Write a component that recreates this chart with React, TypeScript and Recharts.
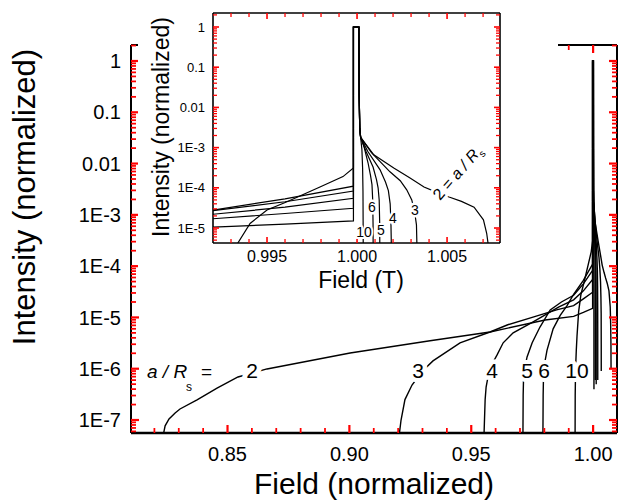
import React from "react";
import { LineChart, Line, XAxis, YAxis } from "recharts";

type Pt = [number, number];

const FONT = "'Liberation Sans', Arial, sans-serif";
const TICK_COLOR = "red";

// [field (normalized), intensity (normalized)], one array per a/Rs
const left2: Pt[] = [
  [0.8234, 4.5e-8], [0.8244, 7.7e-8], [0.826, 1.05e-7], [0.8285, 1.37e-7], [0.8305, 1.64e-7],
  [0.8375, 2.47e-7], [0.8457, 4.2e-7], [0.8543, 6.9e-7], [0.8662, 9.9e-7], [0.9003, 2.03e-6],
  [0.9331, 3.5e-6], [0.9577, 5.2e-6], [0.9803, 8.9e-6], [0.992, 1.05e-5], [0.996, 1.25e-5],
  [0.9998, 1.5e-5],
];
const left3: Pt[] = [
  [0.9203, 4.5e-8], [0.9212, 1e-7], [0.9228, 2.5e-7], [0.9257, 4.8e-7], [0.93, 9e-7],
  [0.9343, 1.42e-6], [0.9454, 3.2e-6], [0.9577, 5.2e-6], [0.965, 7.2e-6], [0.975, 1e-5],
  [0.985, 1.4e-5], [0.992, 1.7e-5], [0.996, 2.3e-5], [0.9998, 3.1e-5],
];
const left4: Pt[] = [
  [0.9552, 4.5e-8], [0.9557, 2.5e-7], [0.9561, 4.4e-7], [0.9575, 1e-6], [0.9606, 1.86e-6],
  [0.9631, 3.2e-6], [0.9672, 5e-6], [0.9754, 8.2e-6], [0.986, 1.6e-5], [0.992, 2.2e-5],
  [0.996, 3.3e-5], [0.9998, 5.5e-5],
];
const left5: Pt[] = [
  [0.9712, 4.5e-8], [0.9713, 3e-7], [0.9715, 8e-7], [0.9729, 1.7e-6], [0.975, 3.2e-6],
  [0.9782, 6.5e-6], [0.9824, 1.4e-5], [0.987, 2e-5], [0.992, 2.7e-5], [0.996, 4.5e-5],
  [0.9998, 8.3e-5],
];
const left6: Pt[] = [
  [0.9794, 4.5e-8], [0.9795, 3e-7], [0.9797, 1e-6], [0.9811, 2.3e-6], [0.9836, 6e-6],
  [0.9865, 1.1e-5], [0.9893, 1.7e-5], [0.992, 2.8e-5], [0.996, 5.3e-5], [0.9998, 1.1e-4],
];
const left10: Pt[] = [
  [0.9926, 4.5e-8], [0.99265, 3e-7], [0.9928, 1e-6], [0.9931, 2.3e-6], [0.99339, 4.3e-6],
  [0.99406, 1.3e-5], [0.995, 2.8e-5], [0.99611, 4.5e-5], [0.99794, 1.05e-4], [0.99922, 1.9e-4],
  [0.9998, 3.1e-4],
];

// the common narrow peak at the resonance field
const peak: Pt[] = [[0.9998, 1], [1.0001, 1], [1.00012, 0.02], [1.00015, 3e-3], [1.0002, 1.8e-3]];

const right2: Pt[] = [
  [1.00093, 6.6e-4], [1.00204, 3.1e-4], [1.0029, 1.8e-4], [1.00372, 1.05e-4], [1.0045, 7.5e-5],
  [1.00511, 5.9e-5], [1.0058, 4.6e-5], [1.0065, 3.3e-5], [1.00702, 1.6e-5], [1.0072, 7.4e-6],
  [1.00732, 3e-6], [1.00736, 1e-6],
];
const right3: Pt[] = [
  [1.0008, 7.5e-4], [1.00183, 2.5e-4], [1.0024, 1.5e-4], [1.00276, 8.9e-5], [1.00304, 5e-5],
  [1.0032, 2.5e-5], [1.0033, 1.2e-5], [1.00333, 3e-6], [1.00334, 9e-7],
];
const right4: Pt[] = [
  [1.0006, 8e-4], [1.00128, 2.8e-4], [1.00158, 1.4e-4], [1.00174, 8.5e-5], [1.00184, 4e-5],
  [1.00188, 1.5e-5], [1.0019, 5e-6], [1.00191, 6e-7],
];
const right5: Pt[] = [
  [1.0005, 8e-4], [1.00089, 3.3e-4], [1.00108, 1.6e-4], [1.00117, 1e-4], [1.00123, 5e-5],
  [1.00126, 1.2e-5], [1.00127, 5e-7],
];
const right6: Pt[] = [
  [1.0004, 1e-3], [1.00061, 4.2e-4], [1.00075, 2e-4], [1.00083, 1.2e-4], [1.00087, 5e-5],
  [1.00089, 1.2e-5], [1.0009, 6e-7],
];
const right10: Pt[] = [
  [1.00027, 9e-4], [1.00031, 3e-4], [1.00033, 8e-5], [1.00034, 1e-5], [1.00035, 4e-7],
];

const ratios = ["2", "3", "4", "5", "6", "10"];
const lefts = [left2, left3, left4, left5, left6, left10];
const rights = [right2, right3, right4, right5, right6, right10];

const curves = ratios.map((r, i) => ({
  name: r,
  data: [...lefts[i], ...peak, ...rights[i]].map(([x, y]) => ({ x, y })),
}));

// axes
const MAIN_X_DOMAIN = [0.8104, 1.0098];
const MAIN_Y_DOMAIN = [5.58e-8, 2.05];
const INSET_X_DOMAIN = [0.992, 1.00794];
const INSET_Y_DOMAIN = [4.24e-6, 2.23];

const mainXMajor = [0.85, 0.9, 0.95, 1.0];
const mainXLabels = ["0.85", "0.90", "0.95", "1.00"];
const insetXMajor = [0.995, 1.0, 1.005];
const insetXLabels = ["0.995", "1.000", "1.005"];
const mainYMajor = [1e-7, 1e-6, 1e-5, 1e-4, 1e-3, 0.01, 0.1, 1];
const mainYLabels = ["1E-7", "1E-6", "1E-5", "1E-4", "1E-3", "0.01", "0.1", "1"];
const insetYMajor = [1e-5, 1e-4, 1e-3, 0.01, 0.1, 1];
const insetYLabels = ["1E-5", "1E-4", "1E-3", "0.01", "0.1", "1"];

const range = (a: number, b: number) => Array.from({ length: b - a + 1 }, (_, i) => a + i);
const mainXTicks = range(82, 100).map((i) => i / 100);
const insetXTicks = range(993, 1007).map((i) => i / 1000);
const logTicks = (lo: number, hi: number) => {
  const out: number[] = [];
  for (let k = -9; k <= 1; k++)
    for (let m = 1; m <= 9; m++) {
      const v = Number((m * Math.pow(10, k)).toPrecision(6));
      if (v >= lo && v <= hi) out.push(v);
    }
  return out;
};
const mainYTicks = logTicks(MAIN_Y_DOMAIN[0], MAIN_Y_DOMAIN[1]);
const insetYTicks = logTicks(INSET_Y_DOMAIN[0], INSET_Y_DOMAIN[1]);

type Side = "left" | "right" | "top" | "bottom";

// inward tick marks (long for majors), labels only on majors
function makeTick(
  side: Side,
  majors: number[],
  labels: string[] | null,
  big: number,
  small: number,
  fontSize: number,
  gap: number,
  sw: number
) {
  return (p: any) => {
    const x = Number(p.x);
    const y = Number(p.y);
    const v = Number(p.payload.value);
    const idx = majors.findIndex((m) => Math.abs(m - v) / m < 1e-6);
    const len = idx >= 0 ? big : small;
    let x2 = x;
    let y2 = y;
    if (side === "left") x2 = x + len;
    if (side === "right") x2 = x - len;
    if (side === "bottom") y2 = y - len;
    if (side === "top") y2 = y + len;
    return (
      <g>
        <line x1={x} y1={y} x2={x2} y2={y2} stroke={TICK_COLOR} strokeWidth={idx >= 0 ? sw : sw * 0.8} />
        {labels && idx >= 0 && side === "left" && (
          <text x={x - gap} y={y} dy="0.36em" textAnchor="end" fontSize={fontSize} fontFamily={FONT} fill="#000">
            {labels[idx]}
          </text>
        )}
        {labels && idx >= 0 && side === "bottom" && (
          <text x={x} y={y + gap} textAnchor="middle" fontSize={fontSize} fontFamily={FONT} fill="#000">
            {labels[idx]}
          </text>
        )}
      </g>
    );
  };
}

const halo = (w: number) => ({
  stroke: "#fff",
  strokeWidth: w,
  strokeLinejoin: "round" as const,
  paintOrder: "stroke" as const,
});

type Curve = { name: string; data: { x: number; y: number }[] };

export default function App() {
  const drawLine = (w: number) => (c: Curve) => (
    <Line
      key={c.name}
      data={c.data}
      dataKey="y"
      xAxisId="b"
      yAxisId="l"
      type="linear"
      stroke="#000"
      strokeWidth={w}
      dot={false}
      activeDot={false}
      isAnimationActive={false}
    />
  );
  const mirror = (
    <Line
      data={curves[0].data}
      dataKey="y"
      xAxisId="t"
      yAxisId="r"
      stroke="none"
      dot={false}
      activeDot={false}
      legendType="none"
      isAnimationActive={false}
    />
  );

  return (
    <div style={{ position: "fixed", left: 0, top: 0, width: 629, height: 502, background: "#fff" }}>
      <div style={{ position: "absolute", left: 0, top: 0 }}>
        <LineChart width={629} height={502} margin={{ top: 44, right: 11, bottom: 0, left: 0 }}>
          <XAxis
            xAxisId="b"
            dataKey="x"
            type="number"
            domain={MAIN_X_DOMAIN}
            allowDataOverflow
            ticks={mainXTicks}
            interval={0}
            height={69}
            tickSize={0}
            tickMargin={0}
            axisLine={{ stroke: "#000", strokeWidth: 2.5 }}
            tick={makeTick("bottom", mainXMajor, mainXLabels, 8, 5, 20, 28, 2.2)}
          />
          <XAxis
            xAxisId="t"
            orientation="top"
            dataKey="x"
            type="number"
            domain={MAIN_X_DOMAIN}
            allowDataOverflow
            ticks={mainXTicks}
            interval={0}
            height={1}
            tickSize={0}
            tickMargin={0}
            axisLine={{ stroke: "#000", strokeWidth: 2 }}
            tick={makeTick("top", mainXMajor, null, 8, 5, 20, 0, 2.2)}
          />
          <YAxis
            yAxisId="l"
            type="number"
            scale="log"
            domain={MAIN_Y_DOMAIN}
            allowDataOverflow
            ticks={mainYTicks}
            interval={0}
            width={131}
            tickSize={0}
            tickMargin={0}
            axisLine={{ stroke: "#000", strokeWidth: 2 }}
            tick={makeTick("left", mainYMajor, mainYLabels, 8, 5, 20, 10, 2.2)}
          />
          <YAxis
            yAxisId="r"
            orientation="right"
            type="number"
            scale="log"
            domain={MAIN_Y_DOMAIN}
            allowDataOverflow
            ticks={mainYTicks}
            interval={0}
            width={1}
            tickSize={0}
            tickMargin={0}
            axisLine={{ stroke: "#000", strokeWidth: 2 }}
            tick={makeTick("right", mainYMajor, null, 8, 5, 20, 0, 2.2)}
          />
          {curves.map(drawLine(1.4))}
          {mirror}
        </LineChart>
      </div>

      <svg width={629} height={502} style={{ position: "absolute", left: 0, top: 0, pointerEvents: "none" }}>
        <g fontFamily={FONT} fill="#000">
          <text x={147} y={378} fontSize={19} fontStyle="italic">a / R</text>
          <text x={186} y={391} fontSize={12}>s</text>
          <text x={201} y={378} fontSize={19}>=</text>
          <text x={252} y={378} fontSize={21} textAnchor="middle" {...halo(10)}>2</text>
          <text x={418} y={378} fontSize={21} textAnchor="middle" {...halo(9)}>3</text>
          <text x={492} y={378} fontSize={21} textAnchor="middle" {...halo(9)}>4</text>
          <text x={527} y={378} fontSize={21} textAnchor="middle" {...halo(8)}>5</text>
          <text x={544} y={378} fontSize={21} textAnchor="middle" {...halo(8)}>6</text>
          <text x={577} y={378} fontSize={21} textAnchor="middle" {...halo(8)}>10</text>
          <text x={374} y={494} fontSize={30} textAnchor="middle">Field (normalized)</text>
          <text transform="translate(35,197) rotate(-90)" fontSize={31} textAnchor="middle">
            Intensity (normalized)
          </text>
        </g>
      </svg>

      <div style={{ position: "absolute", left: 138, top: 0, width: 420, height: 296, background: "#fff" }}>
        <LineChart width={420} height={296} margin={{ top: 12, right: 57, bottom: 0, left: 0 }}>
          <XAxis
            xAxisId="b"
            dataKey="x"
            type="number"
            domain={INSET_X_DOMAIN}
            allowDataOverflow
            ticks={insetXTicks}
            interval={0}
            height={53}
            tickSize={0}
            tickMargin={0}
            axisLine={{ stroke: "#000", strokeWidth: 1.6 }}
            tick={makeTick("bottom", insetXMajor, insetXLabels, 6, 4, 16, 19, 1.6)}
          />
          <XAxis
            xAxisId="t"
            orientation="top"
            dataKey="x"
            type="number"
            domain={INSET_X_DOMAIN}
            allowDataOverflow
            ticks={insetXTicks}
            interval={0}
            height={1}
            tickSize={0}
            tickMargin={0}
            axisLine={{ stroke: "#000", strokeWidth: 1.6 }}
            tick={makeTick("top", insetXMajor, null, 6, 4, 16, 0, 1.6)}
          />
          <YAxis
            yAxisId="l"
            type="number"
            scale="log"
            domain={INSET_Y_DOMAIN}
            allowDataOverflow
            ticks={insetYTicks}
            interval={0}
            width={75}
            tickSize={0}
            tickMargin={0}
            axisLine={{ stroke: "#000", strokeWidth: 1.6 }}
            tick={makeTick("left", insetYMajor, insetYLabels, 6, 4, 13, 8, 1.6)}
          />
          <YAxis
            yAxisId="r"
            orientation="right"
            type="number"
            scale="log"
            domain={INSET_Y_DOMAIN}
            allowDataOverflow
            ticks={insetYTicks}
            interval={0}
            width={1}
            tickSize={0}
            tickMargin={0}
            axisLine={{ stroke: "#000", strokeWidth: 1.6 }}
            tick={makeTick("right", insetYMajor, null, 6, 4, 13, 0, 1.6)}
          />
          {curves.map(drawLine(1.2))}
          {mirror}
        </LineChart>
      </div>

      <svg width={629} height={300} style={{ position: "absolute", left: 0, top: 0, pointerEvents: "none" }}>
        <g fontFamily={FONT} fill="#000">
          <text x={372} y={212} fontSize={14} textAnchor="middle" {...halo(5)}>6</text>
          <text x={364} y={237} fontSize={14} textAnchor="middle" {...halo(4)}>10</text>
          <text x={381} y={235} fontSize={14} textAnchor="middle" {...halo(4)}>5</text>
          <text x={393} y={223} fontSize={14} textAnchor="middle" {...halo(5)}>4</text>
          <text x={415} y={215} fontSize={14} textAnchor="middle" {...halo(5)}>3</text>
          <text transform="translate(440,201) rotate(-49)" fontSize={16} {...halo(6)}>
            2 = <tspan fontStyle="italic">a / R</tspan>
            <tspan fontSize={10} dy={4}>s</tspan>
          </text>
          <text x={361} y={288} fontSize={23} textAnchor="middle">Field (T)</text>
          <text transform="translate(169,127) rotate(-90)" fontSize={23} textAnchor="middle">
            Intensity (normalized)
          </text>
        </g>
      </svg>
    </div>
  );
}
